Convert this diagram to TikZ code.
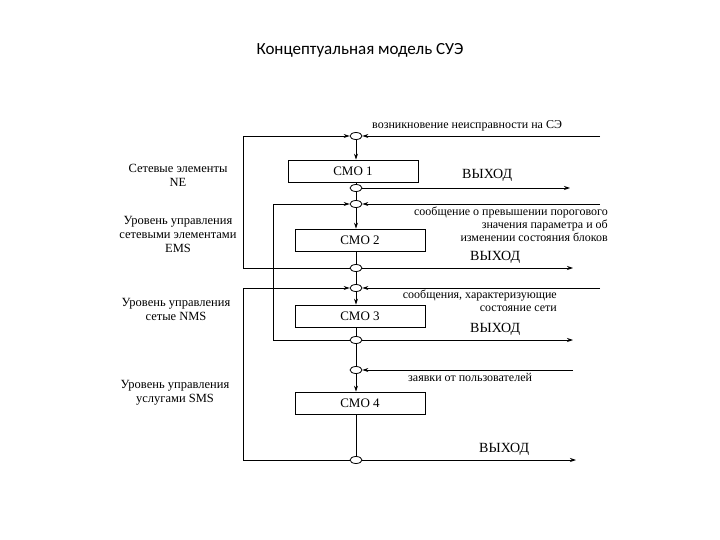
\documentclass[tikz,border=0pt]{standalone}
\usepackage{fontspec}
\setmainfont{Liberation Serif}
\newfontfamily\titlefont{Carlito}
\usetikzlibrary{arrows.meta,shapes.geometric}
\begin{document}
\begin{tikzpicture}[x=1pt,y=-1pt,
  ln/.style={line width=0.8pt},
  arr/.style={ln,-{Stealth[length=6pt,width=4pt]}},
  el/.style={draw,ellipse,line width=0.8pt,minimum width=12pt,minimum height=7pt,inner sep=0pt,fill=white},
  smo/.style={draw,line width=0.8pt,minimum width=130pt,minimum height=22pt,inner sep=0pt,font=\fontsize{13}{13}\selectfont},
  lab/.style={font=\fontsize{12}{13}\selectfont,inner sep=0pt},
  lft/.style={font=\fontsize{12.5}{14}\selectfont,align=center,inner sep=0pt}]
\useasboundingbox (0,0) rectangle (720,540);
\node[font=\titlefont\fontsize{17}{17}\selectfont] (title) at (360,50) {Концептуальная модель СУЭ};
% ellipses
\node[el] (e1) at (356,136) {};
\node[el] (e2) at (356,188) {};
\node[el] (e3) at (356,204) {};
\node[el] (e4) at (356,268) {};
\node[el] (e5) at (356,288) {};
\node[el] (e6) at (356,340) {};
\node[el] (e7) at (356,370) {};
\node[el] (e8) at (356,460) {};
% boxes
\node[smo] (s1) at (353,171) {СМО 1};
\node[smo] (s2) at (360,240) {СМО 2};
\node[smo] (s3) at (360,316) {СМО 3};
\node[smo] (s4) at (360,403) {СМО 4};
% vertical chain
\draw[arr] (e1) -- (s1.north -| e1);
\draw[ln] (s1.south -| e2) -- (e2);
\draw[ln] (e2) -- (e3);
\draw[arr] (e3) -- (s2.north -| e3);
\draw[ln] (s2.south -| e4) -- (e4);
\draw[ln] (e4) -- (e5);
\draw[arr] (e5) -- (s3.north -| e5);
\draw[ln] (s3.south -| e6) -- (e6);
\draw[ln] (e6) -- (e7);
\draw[arr] (e7) -- (s4.north -| e7);
\draw[ln] (s4.south -| e8) -- (e8);
% inputs from right
\coordinate (i1) at (600,136);
\coordinate (i3) at (600,204);
\coordinate (i5) at (600,288);
\coordinate (i7) at (573,370);
\draw[arr] (i1) -- (e1);
\draw[arr] (i3) -- (e3);
\draw[arr] (i5) -- (e5);
\draw[arr] (i7) -- (e7);
% outputs
\coordinate (o2) at (570,188);
\coordinate (o4) at (573,268);
\coordinate (o6) at (573,340);
\coordinate (o8) at (576,460);
\draw[arr] (e2) -- (o2);
\draw[arr] (e4) -- (o4);
\draw[arr] (e6) -- (o6);
\draw[arr] (e8) -- (o8);
% feedback loops
\draw[arr] (e4.west) -- (243,268) -- (243,136) -- (e1);
\draw[arr] (e6.west) -- (273,340) -- (273,204) -- (e3);
\draw[arr] (e8.west) -- (243,460) -- (243,288) -- (e5);
% labels
\node[lab,anchor=south west] (t1) at (372,131) {возникновение неисправности на СЭ};
\node[lab,anchor=south west,font=\fontsize{14}{14}\selectfont] (x1) at (462,182) {ВЫХОД};
\node[lab,anchor=north east,align=right] (t2) at (608,207) {сообщение о превышении порогового\\значения параметра и об\\изменении состояния блоков};
\node[lab,anchor=south west,font=\fontsize{14}{14}\selectfont] (x2) at (470,264) {ВЫХОД};
\node[lab,anchor=north east,align=right] (t3) at (557,290) {сообщения, характеризующие\\состояние сети};
\node[lab,anchor=south west,font=\fontsize{14}{14}\selectfont] (x3) at (470,336) {ВЫХОД};
\node[lab,anchor=north west] (t4) at (408,373) {заявки от пользователей};
\node[lab,anchor=south west,font=\fontsize{14}{14}\selectfont] (x4) at (479,456) {ВЫХОД};
\node[lft] (l1) at (178,175) {Сетевые элементы\\NE};
\node[lft] (l2) at (178,234) {Уровень управления\\сетевыми элементами\\EMS};
\node[lft] (l3) at (176,309) {Уровень управления\\сетые NMS};
\node[lft] (l4) at (175,393) {Уровень управления\\услугами SMS};
\end{tikzpicture}
\end{document}
